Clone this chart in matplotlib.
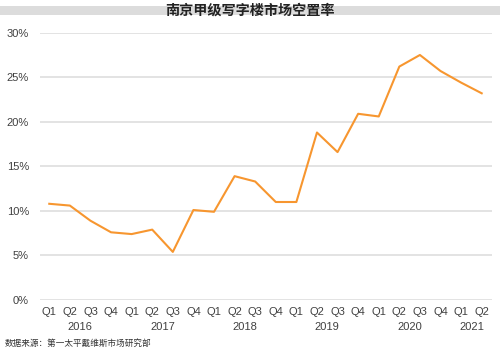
import numpy as np
import matplotlib.pyplot as plt
from matplotlib.patches import Rectangle
from matplotlib.ticker import FuncFormatter

plt.rcParams['font.family'] = ['Liberation Sans', 'Noto Sans CJK SC', 'DejaVu Sans']

# 数据
quarters = ["Q1", "Q2", "Q3", "Q4"] * 5 + ["Q1", "Q2"]
years = ["2016", "2017", "2018", "2019", "2020", "2021"]
vacancy = [10.8, 10.6, 8.9, 7.6, 7.4, 7.9, 5.4, 10.1, 9.9, 13.9, 13.3, 11.0,
           11.0, 18.8, 16.6, 20.9, 20.6, 26.2, 27.5, 25.7, 24.4, 23.2]
title = "南京甲级写字楼市场空置率"
source = "数据来源：第一太平戴维斯市场研究部"

fig = plt.figure(figsize=(5, 3.54), dpi=100)
ax = fig.add_axes([0.08, 0.1525, 0.904, 0.7551])

# 标题灰条
fig.patches.append(Rectangle((0, 0.9576), 1, 0.0254, transform=fig.transFigure,
                             facecolor="#dcdcdc", edgecolor="none", zorder=0))
fig.text(0.5, 0.971, title, ha="center", va="center", fontsize=10.2, fontweight="bold",
         color="#222222", family=["Noto Sans CJK SC"])

x = np.arange(len(vacancy))
ax.plot(x, vacancy, color="#F7962F", lw=1.5, zorder=3)

ax.set_xlim(-0.45, 21.5)
ax.set_ylim(0, 30)
ax.set_yticks(np.arange(0, 31, 5))
ax.yaxis.set_major_formatter(FuncFormatter(lambda v, p: f"{v:.0f}%"))
ax.grid(axis="y", color="#e0e0e0", lw=1.3)
ax.set_axisbelow(True)
for s in ax.spines.values():
    s.set_visible(False)
ax.set_xticks(x)
ax.set_xticklabels(quarters)
ax.tick_params(length=0, labelsize=8, colors="#404040")
ax.tick_params(axis="y", pad=8)
ax.tick_params(axis="x", pad=5)

# 年份标签
starts = [0, 4, 8, 12, 16, 20]
for yr, st in zip(years, starts):
    n = min(4, len(vacancy) - st)
    ax.text(st + (n - 1) / 2, -0.082, yr, transform=ax.get_xaxis_transform(),
            ha="center", va="top", fontsize=8, color="#404040")

fig.text(0.01, 0.03, source, ha="left", va="center", fontsize=6.2,
         color="#333333", family=["Noto Sans CJK SC"], fontweight="medium")

fig.savefig("out.png", dpi=100)
